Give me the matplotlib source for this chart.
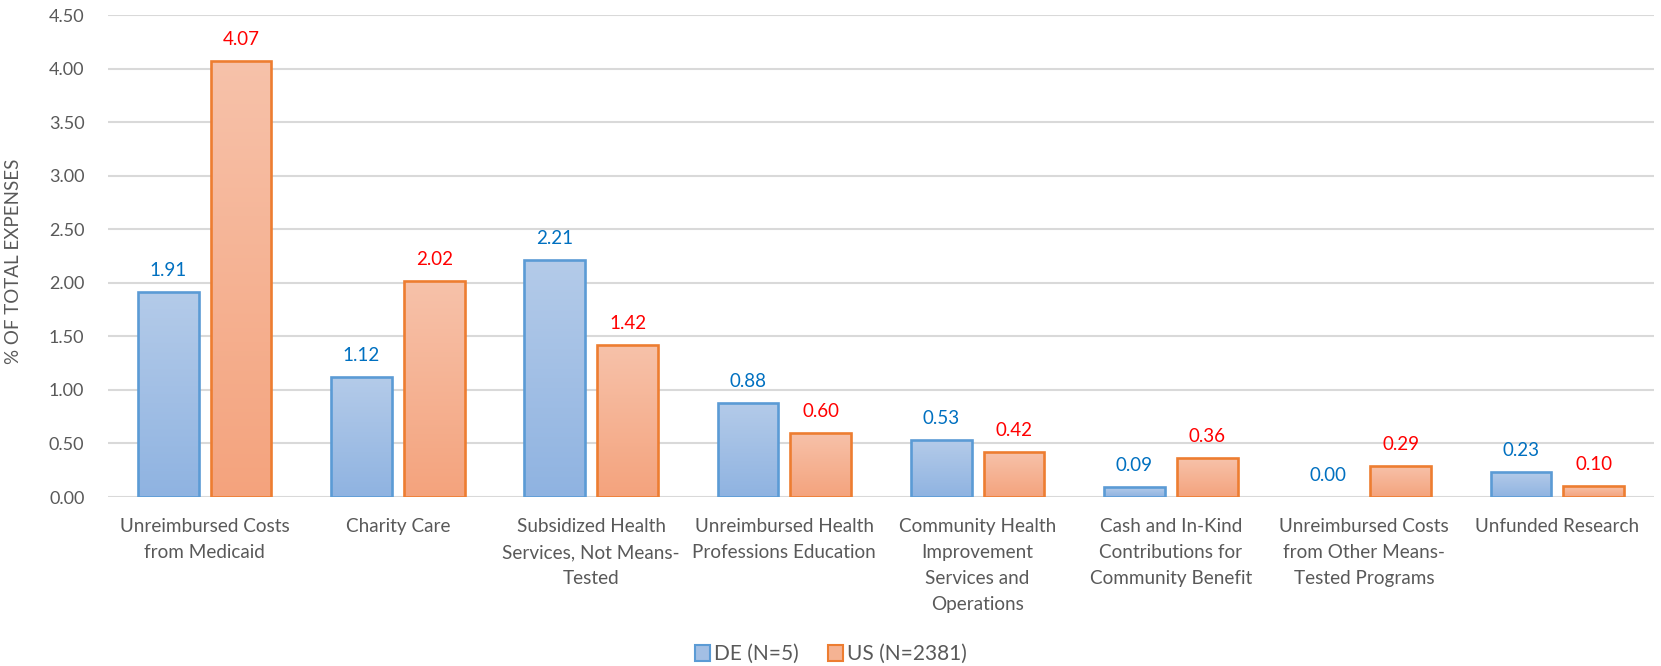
import matplotlib
matplotlib.use("Agg")
import matplotlib.pyplot as plt
import numpy as np
from matplotlib.patches import Patch
from matplotlib.colors import LinearSegmentedColormap

categories = [
    "Unreimbursed Costs\nfrom Medicaid",
    "Charity Care",
    "Subsidized Health\nServices, Not Means-\nTested",
    "Unreimbursed Health\nProfessions Education",
    "Community Health\nImprovement\nServices and\nOperations",
    "Cash and In-Kind\nContributions for\nCommunity Benefit",
    "Unreimbursed Costs\nfrom Other Means-\nTested Programs",
    "Unfunded Research",
]
de_values = [1.91, 1.12, 2.21, 0.88, 0.53, 0.09, 0.00, 0.23]
us_values = [4.07, 2.02, 1.42, 0.60, 0.42, 0.36, 0.29, 0.10]
series_names = ["DE (N=5)", "US (N=2381)"]
yticks = [0.0, 0.5, 1.0, 1.5, 2.0, 2.5, 3.0, 3.5, 4.0, 4.5]

plt.rcParams['font.family'] = ['Lato', 'DejaVu Sans']

W, H = 1661, 666
fig = plt.figure(figsize=(W / 100, H / 100), dpi=100)
ax = fig.add_axes([108 / W, 1 - 497 / H, (1654 - 108) / W, (497 - 15) / H])

x = np.arange(len(categories))
bw = 0.315
off = 0.1885

series = [
    (de_values, -off, "#5b9bd5", ("#b4cbe9", "#8fb3e1"), "#0070c0"),
    (us_values, off, "#ed7d31", ("#f7c2aa", "#f4a37d"), "#ff0000"),
]

ax.set_xlim(-0.5, len(categories) - 0.5)
ax.set_ylim(0, 4.5)

grad = np.linspace(0, 1, 256).reshape(-1, 1)
for vals, o, edge, (ctop, cbot), lblc in series:
    cmap = LinearSegmentedColormap.from_list("g", [ctop, cbot])
    bars = ax.bar(x + o, vals, bw, facecolor="none", edgecolor=edge,
                  linewidth=[1.9 if v > 0 else 0 for v in vals], zorder=3)
    for b, v in zip(bars, vals):
        if v > 0:
            bx, by = b.get_x(), b.get_y()
            im = ax.imshow(grad, cmap=cmap, aspect="auto",
                           extent=[bx, bx + b.get_width(), by, by + b.get_height()],
                           zorder=2, interpolation="bilinear")
            im.set_clip_path(b)
        ax.annotate(f"{v:.2f}", (b.get_x() + b.get_width() / 2, v),
                    xytext=(0, 13), textcoords="offset pixels",
                    ha="center", va="bottom", fontsize=13.5, color=lblc)

ax.set_xlim(-0.5, len(categories) - 0.5)
ax.set_ylim(0, 4.5)
ax.set_yticks(yticks)
ax.set_yticklabels([f"{t:.2f}" for t in yticks], fontsize=13, color="#595959")
ax.set_xticks(x)
ax.set_xticklabels(categories, fontsize=13.6, color="#595959", linespacing=1.65)
ax.tick_params(axis="both", length=0)
ax.tick_params(axis="y", pad=17)
ax.tick_params(axis="x", pad=15)
ax.grid(axis="y", color="#d9d9d9", linewidth=1.5, zorder=0)
ax.set_axisbelow(True)
for s in ax.spines.values():
    s.set_visible(False)

ax.set_ylabel("% OF TOTAL EXPENSES", fontsize=13.5, color="#595959")
ax.yaxis.set_label_coords(-(108 - 22) / (1654 - 108), 0.49)

handles = [Patch(facecolor="#a3bfe4", edgecolor="#5b9bd5", linewidth=1.5),
           Patch(facecolor="#f5b393", edgecolor="#ed7d31", linewidth=1.5)]
leg = fig.legend(handles, series_names, loc="center", bbox_to_anchor=(831 / W, 1 - 654 / H),
                 ncol=2, frameon=False, fontsize=15, handlelength=0.7, handleheight=0.8,
                 handletextpad=0.2, columnspacing=1.4)
for t in leg.get_texts():
    t.set_color("#595959")

fig.savefig("out.png", dpi=100)
